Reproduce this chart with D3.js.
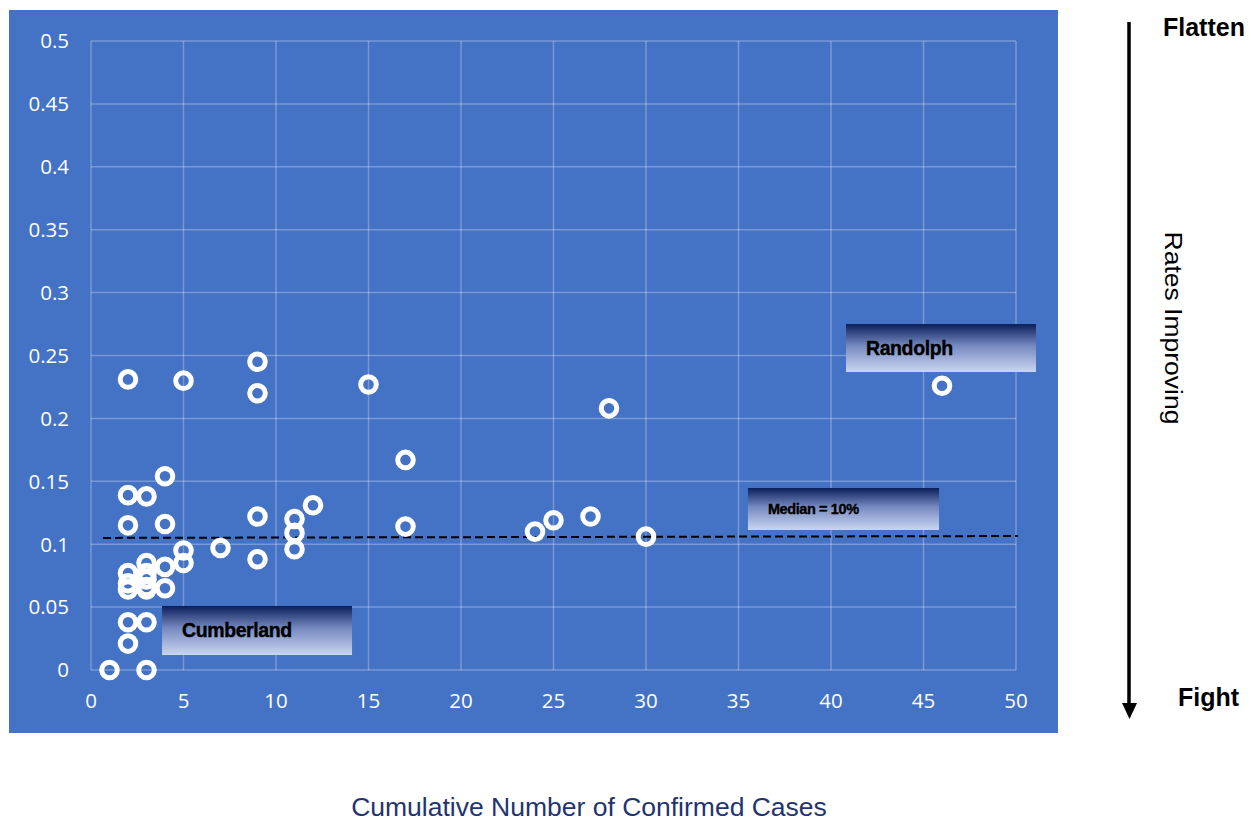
<!DOCTYPE html>
<html>
<head>
<meta charset="utf-8">
<script src="https://cdn.jsdelivr.net/npm/d3@7"></script>
<style>
  html, body { margin: 0; padding: 0; background: #ffffff; }
  svg { display: block; }
</style>
</head>
<body>
<svg id="chart" width="1251" height="822"></svg>
<script>
// ---- data ----
const cases = [1, 3, 2, 2, 3, 2, 2, 2, 3, 3, 3, 3, 3, 4, 4, 5, 5, 7, 9, 11, 11, 11, 12, 9, 17, 2, 4, 2, 3, 4, 17, 2, 5, 9, 9, 15, 28, 46, 24, 25, 27, 30];
const rates = [0, 0, 0.021, 0.038, 0.038, 0.064, 0.069, 0.077, 0.064, 0.066, 0.072, 0.077, 0.085, 0.065, 0.082, 0.085, 0.095, 0.097, 0.088, 0.096, 0.109, 0.12, 0.131, 0.122, 0.114, 0.115, 0.116, 0.139, 0.138, 0.154, 0.167, 0.231, 0.23, 0.245, 0.22, 0.227, 0.208, 0.226, 0.11, 0.119, 0.122, 0.106];

const xTicks = [0, 5, 10, 15, 20, 25, 30, 35, 40, 45, 50];
const yTicks = [0, 0.05, 0.1, 0.15, 0.2, 0.25, 0.3, 0.35, 0.4, 0.45, 0.5];
const yTickLabels = ["0", "0.05", "0.1", "0.15", "0.2", "0.25", "0.3", "0.35", "0.4", "0.45", "0.5"];

const medianX = [0.65, 50.1];
const medianY = [0.105, 0.1065];

const calloutNames = ["Randolph", "Median = 10%", "Cumberland"];
const calloutX0 = [40.81, 35.51, 3.84];
const calloutX1 = [51.08, 45.84, 14.11];
const calloutY0 = [0.275, 0.1447, 0.0509];
const calloutY1 = [0.2369, 0.1113, 0.0119];

const xTitle = "Cumulative Number of Confirmed Cases";
const sideTitle = "Rates Improving";
const topWord = "Flatten";
const bottomWord = "Fight";

// ---- drawing ----
const svg = d3.select("#chart");
const x = d3.scaleLinear().domain([0, 50]).range([91, 1016]);
const y = d3.scaleLinear().domain([0, 0.5]).range([670, 41]);

// chart background
svg.append("rect").attr("x", 9).attr("y", 10).attr("width", 1049).attr("height", 723).attr("fill", "#4472c4");

// gradient for callouts
const defs = svg.append("defs");
const grad = defs.append("linearGradient").attr("id", "boxGrad").attr("x1", 0).attr("y1", 0).attr("x2", 0).attr("y2", 1);
grad.append("stop").attr("offset", "0%").attr("stop-color", "#0a1e5a");
grad.append("stop").attr("offset", "45%").attr("stop-color", "#7689bf");
grad.append("stop").attr("offset", "100%").attr("stop-color", "#c9d6f1");

// gridlines
const gridColor = "rgba(255,255,255,0.28)";
svg.append("g").selectAll("line").data(xTicks).join("line")
  .attr("x1", d => x(d)).attr("x2", d => x(d))
  .attr("y1", y(0)).attr("y2", y(0.5))
  .attr("stroke", gridColor).attr("stroke-width", 1.5);
svg.append("g").selectAll("line").data(yTicks).join("line")
  .attr("x1", x(0)).attr("x2", x(50))
  .attr("y1", d => y(d)).attr("y2", d => y(d))
  .attr("stroke", gridColor).attr("stroke-width", 1.5);

// tick labels
svg.append("g").selectAll("text").data(yTicks).join("text")
  .attr("x", x(0) - 22).attr("y", d => y(d))
  .attr("dy", "0.36em")
  .attr("text-anchor", "end")
  .attr("font-family", "'Open Sans', sans-serif").attr("font-size", 20.5)
  .attr("fill", "#ffffff")
  .text((d, i) => yTickLabels[i]);
svg.append("g").selectAll("text").data(xTicks).join("text")
  .attr("x", d => x(d)).attr("y", 708)
  .attr("text-anchor", "middle")
  .attr("font-family", "'Open Sans', sans-serif").attr("font-size", 20.5)
  .attr("fill", "#ffffff")
  .text(d => d);

// median dashed line
svg.append("line")
  .attr("x1", x(medianX[0])).attr("x2", x(medianX[1]))
  .attr("y1", y(medianY[0])).attr("y2", y(medianY[1]))
  .attr("stroke", "#000").attr("stroke-width", 2).attr("stroke-dasharray", "8,4");

// points
svg.append("g").selectAll("circle").data(cases).join("circle")
  .attr("cx", d => x(d)).attr("cy", (d, i) => y(rates[i]))
  .attr("r", 7.8)
  .attr("fill", "none").attr("stroke", "#ffffff").attr("stroke-width", 5);

// callouts
const fontSizes = [19.5, 14.5, 19.5];
const textOffsets = [20, 20, 20];
const baseOffsets = [31, 26, 31];
calloutNames.forEach((name, i) => {
  const g = svg.append("g");
  const bx = x(calloutX0[i]), by = y(calloutY0[i]);
  g.append("rect").attr("x", bx).attr("y", by)
    .attr("width", x(calloutX1[i]) - bx).attr("height", y(calloutY1[i]) - by)
    .attr("fill", "url(#boxGrad)");
  g.append("text").attr("x", bx + textOffsets[i]).attr("y", by + baseOffsets[i])
    .attr("font-family", "'Liberation Sans', Arial, sans-serif").attr("font-weight", "bold")
    .attr("font-size", fontSizes[i]).attr("letter-spacing", -0.4)
    .attr("fill", "#000").attr("stroke", "#000").attr("stroke-width", 0.4)
    .text(name);
});

// x-axis title
svg.append("text").attr("x", 589).attr("y", 816)
  .attr("text-anchor", "middle")
  .attr("font-family", "'Liberation Sans', Arial, sans-serif").attr("font-size", 26.5)
  .attr("fill", "#1f3470")
  .text(xTitle);

// side arrow
svg.append("line").attr("x1", 1129).attr("x2", 1129).attr("y1", 22).attr("y2", 706)
  .attr("stroke", "#000").attr("stroke-width", 3.5);
svg.append("path")
  .attr("d", d3.line()([[1122, 703], [1137, 703], [1129.5, 719]]) + "Z")
  .attr("fill", "#000");

svg.append("text").attr("x", 1163).attr("y", 36)
  .attr("font-family", "'Liberation Sans', Arial, sans-serif").attr("font-weight", "bold")
  .attr("font-size", 25).attr("fill", "#000").text(topWord);
svg.append("text").attr("x", 1178).attr("y", 706)
  .attr("font-family", "'Liberation Sans', Arial, sans-serif").attr("font-weight", "bold")
  .attr("font-size", 25).attr("fill", "#000").text(bottomWord);

svg.append("text")
  .attr("transform", "translate(1165,328) rotate(90)")
  .attr("text-anchor", "middle")
  .attr("font-family", "'Liberation Sans', Arial, sans-serif").attr("font-size", 23)
  .attr("textLength", 193).attr("lengthAdjust", "spacingAndGlyphs")
  .attr("fill", "#000").text(sideTitle);
</script>
</body>
</html>
